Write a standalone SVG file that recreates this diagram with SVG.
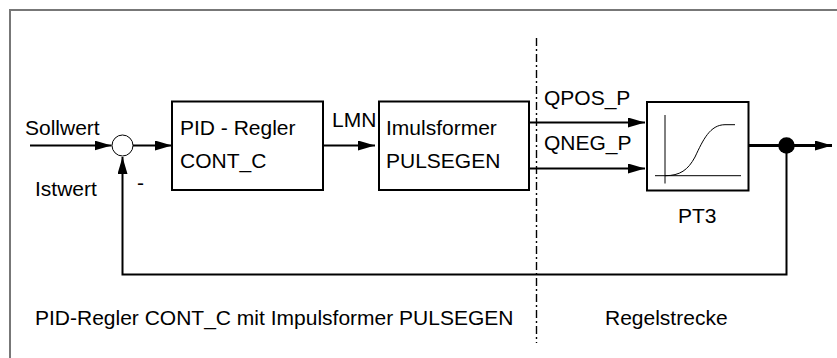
<svg xmlns="http://www.w3.org/2000/svg" width="837" height="358" viewBox="0 0 837 358">
<style>
text{font-family:"Liberation Sans",Arial,sans-serif;font-size:21px;fill:#000}
.box{fill:#fff;stroke:#000;stroke-width:2}
.ln{fill:none;stroke:#000;stroke-width:2}
</style>
<defs>
<marker id="ah" markerUnits="userSpaceOnUse" markerWidth="18" markerHeight="12" refX="17" refY="5" orient="auto">
<path d="M0,0 L17,5 L0,10 Z" fill="#000"/>
</marker>
</defs>
<rect width="837" height="358" fill="#fff"/>
<path d="M10,358 V10 H837" fill="none" stroke="#777" stroke-width="2"/>
<line x1="536.5" y1="38" x2="536.5" y2="343" stroke="#000" stroke-width="1.4" stroke-dasharray="8 3 2 3"/>
<g id="connectors">
<line class="ln" x1="30" y1="145.5" x2="111.5" y2="145.5" marker-end="url(#ah)"/>
<line class="ln" x1="133" y1="145.5" x2="172" y2="145.5" marker-end="url(#ah)"/>
<line class="ln" x1="323" y1="145.5" x2="375" y2="145.5" marker-end="url(#ah)"/>
<line class="ln" x1="529" y1="122.5" x2="645" y2="122.5" marker-end="url(#ah)"/>
<line class="ln" x1="529" y1="168.5" x2="645" y2="168.5" marker-end="url(#ah)"/>
<line x1="749" y1="145.5" x2="832" y2="145.5" stroke="#000" stroke-width="3" marker-end="url(#ah)"/>
<polyline class="ln" points="786.5,145.5 786.5,274.5 122.5,274.5 122.5,157" marker-end="url(#ah)"/>
<circle cx="786.5" cy="145.5" r="8.3" fill="#000"/>
</g>
<g id="sum">
<circle cx="122.5" cy="145.5" r="10.5" fill="#fff" stroke="#000" stroke-width="1"/>
</g>
<g id="pid">
<rect class="box" x="172" y="101.5" width="151" height="88.5"/>
<text x="180" y="135">PID - Regler</text>
<text x="180" y="168">CONT_C</text>
</g>
<g id="pulsegen">
<rect class="box" x="379" y="101.5" width="150" height="88.5"/>
<text x="386" y="135">Imulsformer</text>
<text x="386" y="168">PULSEGEN</text>
</g>
<g id="pt3">
<rect class="box" x="647" y="102" width="101.5" height="88.5"/>
<line x1="665" y1="115" x2="665" y2="183.5" stroke="#000" stroke-width="1"/>
<line x1="655" y1="175.7" x2="741" y2="175.7" stroke="#000" stroke-width="1"/>
<path d="M665,175.7 C680,175.7 688,170 695,157 C703,140 710,124.7 725,124.7 L735,124.7" fill="none" stroke="#000" stroke-width="1"/>
<text x="678" y="223">PT3</text>
</g>
<g id="labels">
<text x="25" y="135">Sollwert</text>
<text x="35" y="196">Istwert</text>
<text x="137" y="190">-</text>
<text x="332" y="127">LMN</text>
<text x="544" y="105">QPOS_P</text>
<text x="544" y="150">QNEG_P</text>
<text x="35" y="325">PID-Regler CONT_C mit Impulsformer PULSEGEN</text>
<text x="605" y="325">Regelstrecke</text>
</g>
</svg>
